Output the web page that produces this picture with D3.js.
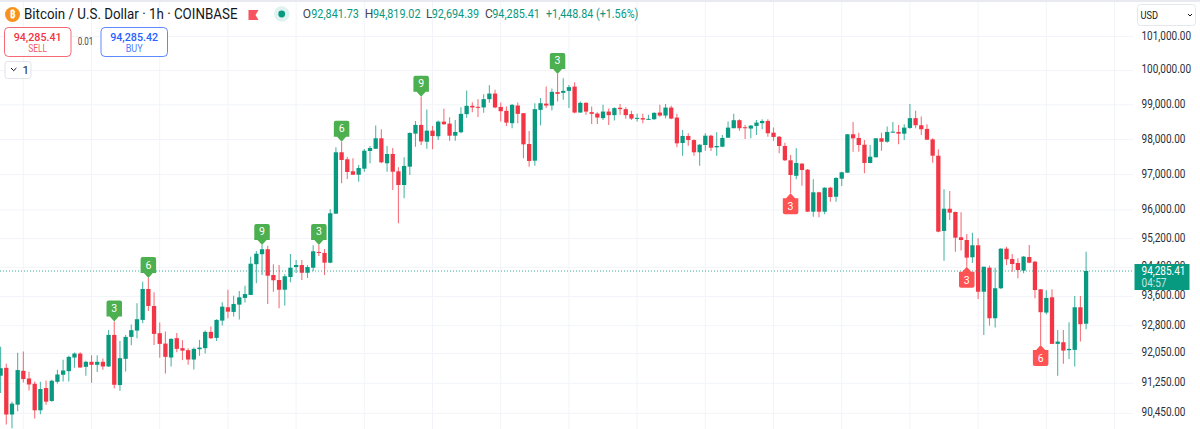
<!DOCTYPE html>
<html>
<head>
<meta charset="utf-8">
<title>Bitcoin / U.S. Dollar 1h</title>
<script src="https://cdn.jsdelivr.net/npm/d3@7"></script>
<style>
  html, body { margin: 0; padding: 0; background: #fff; overflow: hidden; }
  svg { display: block; font-family: Roboto, "Noto Sans", sans-serif; }
</style>
</head>
<body>
<svg id="chart" width="1200" height="429"></svg>
<script>
// Hourly BTC/USD candles, oldest first.
const opens = [91440,91650,90406,90668,91571,91365,91224,90518,91110,90766,91277,91465,91561,91927,92034,91678,91812,91732,91812,91687,92538,91190,91892,92484,92655,92945,93790,93325,92584,92303,91927,92449,92179,92125,91873,92152,92179,92620,92457,92926,93290,93163,93362,93545,93627,94473,94750,94888,94175,94037,93770,94120,94395,94450,94237,94376,94812,94785,94515,95882,97620,97420,97078,96981,97152,97657,97720,98020,97306,97571,97078,96690,97210,98155,98405,97922,98240,98078,98500,98443,98095,98194,98716,98956,98927,98910,99150,99312,98924,98811,98455,98965,98744,97856,97380,98840,99020,98965,99354,99333,99391,99515,98762,99043,98773,98733,98600,98790,98687,98900,98860,98716,98588,98600,98558,98570,98762,98675,98906,98617,97885,98087,97970,97620,97828,98095,97762,97780,98037,98310,98541,98338,98300,98376,98455,98520,98182,98066,97800,97391,96950,97296,97124,95937,96483,95937,96613,96358,96868,97038,98136,98030,97836,97315,97477,98020,97922,98182,98202,98153,98318,98600,98396,98290,97990,97522,95397,96020,95930,95220,95145,94665,94998,93715,94376,92990,93810,94904,94618,94507,94295,94673,94543,93781,93145,93562,92295,92340,92125,92133,93290,92841.73];
const highs = [92220,91758,90748,92053,92088,91545,91285,91277,91311,91330,91598,91865,91972,92061,92071,91838,91991,91991,91900,92674,92899,92376,92538,92818,93399,93990,94092,93700,92872,92628,92449,92592,92395,92179,92195,92403,92655,92763,92964,93427,93770,93607,93735,93880,94682,94840,95006,94988,94470,94450,94195,94757,94590,94590,94450,94998,95006,94896,96005,97762,97922,97494,97448,97258,97714,97799,98385,98280,97799,97742,97192,97477,98192,98520,99217,98850,98376,98530,98870,98628,98550,98918,99400,99062,99150,99295,99555,99420,99052,98935,99006,99052,98744,98231,99032,99180,99515,99458,99885,99760,99565,99643,99080,99062,98935,98773,98985,98877,98918,99006,98918,98811,98724,98724,98695,98773,98985,99011,98956,98724,98260,98165,97990,97856,98165,98124,98194,98115,98500,98724,98570,98405,98405,98550,98570,98570,98327,98087,97893,97543,97733,97306,97143,96850,96500,96624,96640,96907,97066,98145,98492,98182,97970,97827,98020,98182,98356,98492,98405,98425,99006,98811,98647,98425,98020,97705,96568,96520,95937,95920,95313,95350,95192,94404,94432,94376,94915,94960,94757,94637,94700,95006,94562,93781,93755,93781,92674,92674,92883,93600,93600,94819.02];
const lows = [90980,90145,90041,90492,91258,91046,90301,90414,90668,90747,91232,91285,91285,91651,91651,91437,91250,91537,91598,91670,91100,91038,91552,92260,92450,92855,93190,92268,91918,91500,91687,92072,91857,91732,91606,91972,92034,92430,92376,92791,92990,93035,92953,93417,93627,93945,94175,93380,93715,93263,93335,93975,94230,94037,94092,94276,94700,94175,94497,95873,96737,96858,96972,96782,97066,97306,97714,97306,97066,96548,95613,96313,96972,97780,97827,97720,97705,97970,98405,97950,97950,98165,98608,98773,98630,98753,99043,98884,98500,98376,98310,98455,97448,97210,97238,98385,98890,98820,99080,99130,98896,98745,98753,98695,98434,98434,98550,98405,98530,98695,98580,98550,98500,98455,98550,98550,98640,98600,98570,97762,97522,97808,97522,97238,97665,97657,97522,97762,98037,98310,98240,98000,98020,98115,98280,98066,97950,97590,97372,96455,96850,96670,95937,95797,95780,95865,96217,96217,96660,97038,97637,97637,97020,97306,97477,97665,97893,98182,97847,97970,98298,98310,98115,97970,97323,95360,94570,95705,94820,94850,94404,94507,93517,92538,92790,92736,93790,94450,94265,94084,94220,94497,93535,92268,93100,92295,91437,91758,91885,91686,92358,92694.39];
const closes = [91640,90406,90695,91590,91349,91205,90518,91084,90747,91304,91472,91579,91945,92034,91659,91812,91732,91812,91687,92538,91197,91910,92484,92666,92964,93790,93325,92565,92295,91945,92430,92160,92114,91873,92160,92195,92620,92449,92945,93307,93170,93380,93562,93650,94487,94765,94888,94155,94030,93770,94140,94376,94450,94237,94395,94830,94793,94515,95892,97620,97400,97058,96981,97172,97665,97742,98020,97334,97571,97066,96690,97230,98172,98405,97930,98240,98087,98500,98425,98095,98202,98724,98956,98910,98898,99150,99312,98910,98800,98472,98985,98724,97847,97372,98860,99032,98965,99362,99304,99391,99500,98762,99043,98790,98724,98617,98790,98687,98890,98860,98687,98588,98608,98560,98580,98753,98675,98906,98588,97876,98087,97970,97620,97836,98095,97750,97799,98030,98327,98541,98310,98310,98385,98472,98520,98165,98058,97800,97391,96972,97315,97115,95937,96483,95937,96613,96350,96887,97050,98136,98020,97827,97315,97494,98020,97922,98202,98211,98153,98327,98600,98396,98280,97980,97522,95378,96020,95910,95210,95145,94655,94998,93715,94404,92990,93810,94904,94610,94478,94312,94683,94515,93762,93155,93545,92295,92358,92114,92160,93290,92828,94285.41];

// Indices of the labelled up and down signals.
const upSignalIndex = [20, 26, 46, 56, 60, 74, 98];
const upSignalText = ["3", "6", "9", "3", "6", "9", "3"];
const downSignalIndex = [139, 170, 183];
const downSignalText = ["3", "3", "6"];

// Price axis values and labels.
const priceTicks = [101000, 100000, 99000, 98000, 97000, 96000, 95200, 94400, 93600, 92800, 92050, 91250, 90450];

// Header values.
const lastPrice = 94285.41;
const sellPrice = "94,285.41";
const buyPrice = "94,285.42";
const spreadText = "0.01";
const countdownText = "04:57";
const titleText = "Bitcoin / U.S. Dollar · 1h · COINBASE";
const ohlcFields = [
  { key: "O", value: "92,841.73" },
  { key: "H", value: "94,819.02" },
  { key: "L", value: "92,694.39" },
  { key: "C", value: "94,285.41" }
];
const changeText = "+1,448.84 (+1.56%)";

const UP = "#089981", DOWN = "#f23645", GRID = "#f2f4f9", INK = "#131722";
const candleCount = opens.length;
const plotRight = 1133.5;

const svg = d3.select("#chart");
const x = d3.scaleLinear().domain([0, candleCount - 1]).range([0.6, 1086.1]);
// The price pane is logarithmic: tick spacing widens toward the lower prices.
const y = d3.scaleLog().domain([lastPrice, 101000]).range([271, 36]);

// Adds a text node, optionally fitted to a set width.
function label(parent, px, py, str, o = {}) {
  const t = parent.append("text")
    .attr("x", px).attr("y", py).text(str)
    .attr("font-size", o.size || 12)
    .attr("fill", o.fill || INK)
    .attr("font-weight", o.weight || 400)
    .attr("text-anchor", o.anchor || "start");
  if (o.width) t.attr("textLength", o.width).attr("lengthAdjust", "spacingAndGlyphs");
  return t;
}

svg.append("rect").attr("width", 1200).attr("height", 2).attr("fill", "#e9e9f2");

svg.append("defs").append("clipPath").attr("id", "pane")
  .append("rect").attr("x", 0).attr("y", 2).attr("width", plotRight).attr("height", 427);

const pane = svg.append("g").attr("clip-path", "url(#pane)");

// Session grid: one vertical every 12 candles, starting at candle 4.
pane.append("g").selectAll("line")
  .data(d3.range(4, 200, 12))
  .join("line")
  .attr("x1", d => x(d)).attr("x2", d => x(d))
  .attr("y1", 2).attr("y2", 429)
  .attr("stroke", GRID);

const yAxisGrid = d3.axisRight(y).tickValues(priceTicks).tickSize(plotRight).tickFormat("");
const gridG = pane.append("g").call(yAxisGrid);
gridG.select(".domain").remove();
gridG.selectAll("line").attr("stroke", GRID);

// Candles
const candles = d3.range(candleCount).map(i => ({
  i, o: opens[i], h: highs[i], l: lows[i], c: closes[i], up: closes[i] >= opens[i]
}));
const bodyWidth = 4.3;
const candleG = pane.append("g").selectAll("g").data(candles).join("g");
candleG.append("line")
  .attr("x1", d => x(d.i)).attr("x2", d => x(d.i))
  .attr("y1", d => y(d.h)).attr("y2", d => y(d.l))
  .attr("stroke", d => d.up ? UP : DOWN)
  .attr("stroke-opacity", 0.7)
  .attr("stroke-width", 1.1);
candleG.append("rect")
  .attr("x", d => x(d.i) - bodyWidth / 2)
  .attr("width", bodyWidth)
  .attr("y", d => y(Math.max(d.o, d.c)))
  .attr("height", d => Math.max(1, y(Math.min(d.o, d.c)) - y(Math.max(d.o, d.c))))
  .attr("fill", d => d.up ? UP : DOWN);

// Last-price line
pane.append("line")
  .attr("x1", 0).attr("x2", plotRight)
  .attr("y1", y(lastPrice)).attr("y2", y(lastPrice))
  .attr("stroke", UP).attr("stroke-opacity", 0.8)
  .attr("stroke-dasharray", "1 2");

// Signal flags: a rounded tag whose tip rests on the candle's wick end.
const tagW = 15.5, tagH = 16, tipH = 5, tipHalf = 4.5, r = 2;
const upTag = `M${-tagW/2+r},${-tipH-tagH} H${tagW/2-r} Q${tagW/2},${-tipH-tagH} ${tagW/2},${-tipH-tagH+r} V${-tipH} H${tipHalf} L0,0 L${-tipHalf},${-tipH} H${-tagW/2} V${-tipH-tagH+r} Q${-tagW/2},${-tipH-tagH} ${-tagW/2+r},${-tipH-tagH} Z`;
const downTag = `M0,0 L${tipHalf},${tipH} H${tagW/2} V${tipH+tagH-r} Q${tagW/2},${tipH+tagH} ${tagW/2-r},${tipH+tagH} H${-tagW/2+r} Q${-tagW/2},${tipH+tagH} ${-tagW/2},${tipH+tagH-r} V${tipH} H${-tipHalf} Z`;

const ups = pane.append("g").selectAll("g")
  .data(upSignalIndex.map((idx, k) => ({ idx, text: upSignalText[k] })))
  .join("g")
  .attr("transform", d => `translate(${x(d.idx)},${y(highs[d.idx])})`);
ups.append("path").attr("d", upTag).attr("fill", "#4caf50");
ups.append("text").text(d => d.text)
  .attr("y", -tipH - 4.5).attr("text-anchor", "middle")
  .attr("font-size", 10.5).attr("fill", "#fff");

const downs = pane.append("g").selectAll("g")
  .data(downSignalIndex.map((idx, k) => ({ idx, text: downSignalText[k] })))
  .join("g")
  .attr("transform", d => `translate(${x(d.idx)},${y(lows[d.idx])})`);
downs.append("path").attr("d", downTag).attr("fill", "#ff5252");
downs.append("text").text(d => d.text)
  .attr("y", tipH + 12).attr("text-anchor", "middle")
  .attr("font-size", 10.5).attr("fill", "#fff");

// Price scale
const fmtPrice = d3.format(",.2f");
const axisG = svg.append("g");
axisG.selectAll("text").data(priceTicks).join("text")
  .attr("x", 1141.5)
  .attr("y", d => y(d) + 3.5)
  .attr("font-size", 12)
  .attr("fill", "#2a2e39")
  .attr("textLength", d => fmtPrice(d).length === 10 ? 49.5 : 44)
  .attr("lengthAdjust", "spacingAndGlyphs")
  .text(d => fmtPrice(d));

// Last-price tag with countdown
const ly = y(lastPrice);
axisG.append("rect")
  .attr("x", 1134.5).attr("y", ly - 7).attr("width", 55).attr("height", 26)
  .attr("fill", UP);
label(axisG, 1141.5, ly + 3.5, fmtPrice(lastPrice), { size: 12, fill: "#fff", width: 44 });
label(axisG, 1141.5, ly + 15.5, countdownText, { size: 12, fill: "#c4e7e0", width: 25 });

// Currency selector
const usd = svg.append("g");
usd.append("rect").attr("x", 1137.5).attr("y", 4.5).attr("width", 58).attr("height", 21).attr("rx", 3)
  .attr("fill", "#fff").attr("stroke", "#e5e7ee");
label(usd, 1140.5, 19, "USD", { size: 11.5, width: 17.5 });
usd.append("path").attr("d", "M1188,14 L1190,16 L1192,14").attr("fill", "none").attr("stroke", INK).attr("stroke-width", 1);

// Header legend
const head = svg.append("g");
head.append("circle").attr("cx", 12.5).attr("cy", 14.5).attr("r", 7.5).attr("fill", "#f7931a");
label(head, 12.5, 18, "₿", { size: 10, fill: "#fff", anchor: "middle", weight: 700 });
label(head, 24, 19, titleText, { size: 14, fill: "#131722", width: 213.5 });
head.append("path").attr("d", "M248.5,10 H258.5 L255.5,15 L258.5,20 H248.5 Z").attr("fill", "#f7525f");
head.append("circle").attr("cx", 281.7).attr("cy", 14).attr("r", 7.7).attr("fill", UP).attr("fill-opacity", 0.13);
head.append("circle").attr("cx", 281.7).attr("cy", 14).attr("r", 3.4).attr("fill", UP);

const keyX = [302.7, 364.7, 426, 485], valX = [311.3, 373, 431.7, 492.3];
ohlcFields.forEach((f, k) => {
  label(head, keyX[k], 18, f.key, { size: 12, fill: "#434651" });
  label(head, valX[k], 18, f.value, { size: 12, fill: UP, width: 47.5 });
});
label(head, 546, 18, changeText, { size: 12, fill: UP, width: 92.3 });

// Sell and buy buttons
function orderButton(bx, color, price, word, wordW) {
  const g = svg.append("g");
  g.append("rect").attr("x", bx).attr("y", 27.5).attr("width", 66.5).attr("height", 29).attr("rx", 4)
    .attr("fill", "#fff").attr("stroke", color).attr("stroke-opacity", 0.75);
  label(g, bx + 33.2, 40.5, price, { size: 11.5, fill: color, weight: 500, anchor: "middle", width: 48 });
  label(g, bx + 33.2, 52, word, { size: 11, fill: color, anchor: "middle", width: wordW }).attr("fill-opacity", 0.85);
}
orderButton(4.5, "#f23645", sellPrice, "SELL", 19);
label(svg, 77.7, 44.5, spreadText, { size: 10.5, fill: "#434651", width: 15.6 });
orderButton(101, "#2962ff", buyPrice, "BUY", 17);

// Collapsed indicator list
const coll = svg.append("g");
coll.append("rect").attr("x", 5).attr("y", 61.5).attr("width", 26).attr("height", 17).attr("rx", 2.5)
  .attr("fill", "#fff").attr("stroke", "#e0e3eb");
coll.append("path").attr("d", "M11,68 L13.7,70.7 L16.4,68").attr("fill", "none").attr("stroke", INK);
label(coll, 22.5, 74, "1", { size: 11.5, fill: INK });
</script>
</body>
</html>
